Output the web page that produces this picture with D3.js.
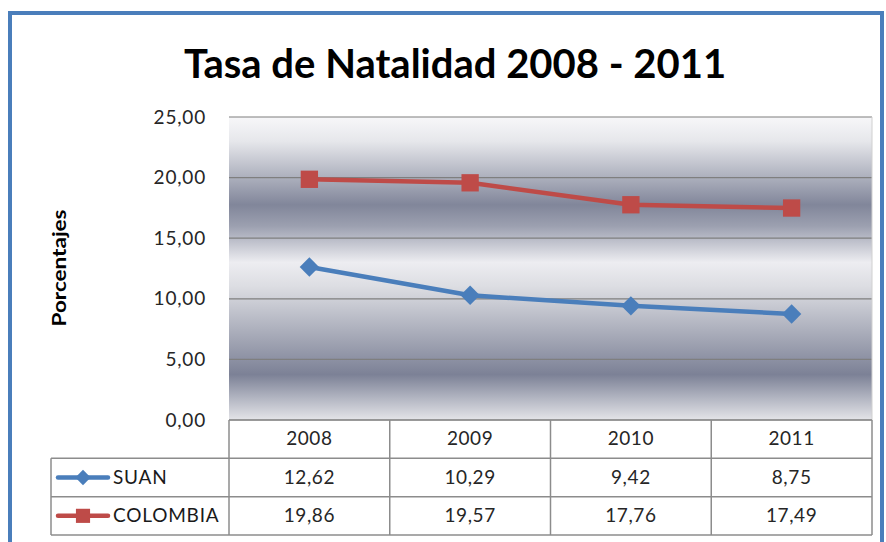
<!DOCTYPE html>
<html><head><meta charset="utf-8">
<script src="https://cdn.jsdelivr.net/npm/d3@7"></script>
<style>body{margin:0;background:#fff}svg{display:block}</style>
</head><body>
<svg id="c" width="886" height="542"></svg>
<script>
const years = ["2008","2009","2010","2011"];
const suan = [12.62,10.29,9.42,8.75];
const colombia = [19.86,19.57,17.76,17.49];
const yTicks = [0,5,10,15,20,25];
const seriesNames = ["SUAN","COLOMBIA"];
const title = "Tasa de Natalidad 2008 - 2011";
const yLabel = "Porcentajes";

const svg = d3.select("#c");
const font = "Lato, 'Open Sans', sans-serif";
const fmt = v => d3.format(".2f")(v).replace(".", ",");

const L = 229, R = 872, T = 117, B = 420;
const x = d3.scaleBand().domain(years).range([L, R]);
const y = d3.scaleLinear().domain([0, 25]).range([B, T]);
const cx = d => x(d) + x.bandwidth()/2;
const rows = d3.scaleBand().domain(["head", ...seriesNames]).range([B, 535]);

// outer border
svg.append("rect").attr("x",10).attr("y",13).attr("width",872).attr("height",600)
  .attr("fill","#fff").attr("stroke","#4a7ebb").attr("stroke-width",4);

// gradient
const defs = svg.append("defs");
const g = defs.append("linearGradient").attr("id","bg").attr("x1",0).attr("y1",0).attr("x2",0).attr("y2",1);
[[0,"#f7f7f9"],[0.08,"#e6e7eb"],[0.29,"#81869a"],[0.36,"#9ca0b0"],[0.48,"#ededf1"],[0.56,"#dcdde2"],[0.85,"#7c8196"],[0.93,"#b4b7c3"],[1,"#e4e4e8"]]
  .forEach(s => g.append("stop").attr("offset", s[0]).attr("stop-color", s[1]));
svg.append("rect").attr("x",L).attr("y",T).attr("width",R-L).attr("height",B-T).attr("fill","url(#bg)");

// gridlines
svg.append("g").selectAll("line").data(yTicks).join("line")
  .attr("x1",L).attr("x2",R).attr("y1",d=>y(d)).attr("y2",d=>y(d))
  .attr("stroke","#7f7f7f").attr("stroke-width",1.2);
svg.append("line").attr("x1",R).attr("x2",R).attr("y1",T).attr("y2",B).attr("stroke","#d0d0d0");

// title
svg.append("text").attr("x",455).attr("y",78).attr("text-anchor","middle")
  .attr("font-family",font).attr("font-weight","bold").attr("font-size",40)
  .attr("fill","#000").text(title);

// y axis
const ya = svg.append("g").attr("transform",`translate(${L},0)`)
  .call(d3.axisLeft(y).tickValues(yTicks).tickFormat(fmt).tickSize(0).tickPadding(23));
ya.select(".domain").remove();
ya.selectAll("text").attr("font-family",font).attr("font-size",19).attr("letter-spacing",0.8).attr("fill","#262626");

svg.append("text").attr("transform","translate(66,268) rotate(-90)").attr("text-anchor","middle")
  .attr("font-family",font).attr("font-weight","bold").attr("font-size",18)
  .attr("textLength",117).attr("lengthAdjust","spacingAndGlyphs").attr("fill","#000").text(yLabel);

// lines
const series = [
  {name: seriesNames[0], values: suan, color:"#4a7ebb", shape: d3.symbolDiamond2},
  {name: seriesNames[1], values: colombia, color:"#be4b48", shape: d3.symbolSquare}
];
const line = d3.line().x((d,i)=>cx(years[i])).y(d=>y(d));
series.forEach(s => {
  svg.append("path").attr("d", line(s.values)).attr("fill","none")
    .attr("stroke", s.color).attr("stroke-width",4.5).attr("stroke-linejoin","round");
  svg.append("g").selectAll("path").data(s.values).join("path")
    .attr("transform",(d,i)=>`translate(${cx(years[i])},${y(d)})`)
    .attr("d", d3.symbol().type(s.shape).size(s.shape===d3.symbolSquare?300:240)())
    .attr("fill", s.color);
});

// data table
const tc = "#8c8c8c";
const tbl = svg.append("g").attr("stroke",tc).attr("stroke-width",1.5);
[...years.map(d=>x(d)), R].forEach(v => tbl.append("line").attr("x1",v).attr("x2",v).attr("y1",B).attr("y2",535));
tbl.append("line").attr("x1",51).attr("x2",51).attr("y1",rows("SUAN")).attr("y2",535);
tbl.append("line").attr("x1",L).attr("x2",R).attr("y1",B).attr("y2",B);
seriesNames.forEach(n => tbl.append("line").attr("x1",51).attr("x2",R).attr("y1",rows(n)).attr("y2",rows(n)));
tbl.append("line").attr("x1",51).attr("x2",R).attr("y1",535).attr("y2",535);

const rh = rows.bandwidth();
svg.append("g").selectAll("text").data(years).join("text")
  .attr("x",d=>cx(d)).attr("y",rows("head")+rh/2+6).attr("text-anchor","middle")
  .attr("font-family",font).attr("font-size",19).attr("letter-spacing",0.6).attr("fill","#262626").text(d=>d);

series.forEach(s => {
  const ry = rows(s.name)+rh/2;
  svg.append("g").selectAll("text").data(s.values).join("text")
    .attr("x",(d,i)=>cx(years[i])).attr("y",ry+6).attr("text-anchor","middle")
    .attr("font-family",font).attr("font-size",19).attr("letter-spacing",0.6).attr("fill","#262626").text(fmt);
  svg.append("line").attr("x1",58).attr("x2",108).attr("y1",ry).attr("y2",ry)
    .attr("stroke",s.color).attr("stroke-width",4.5).attr("stroke-linecap","round");
  svg.append("path").attr("transform",`translate(83,${ry})`)
    .attr("d", d3.symbol().type(s.shape).size(s.shape===d3.symbolSquare?200:150)()).attr("fill",s.color);
  svg.append("text").attr("x",113).attr("y",ry+6).attr("font-family",font).attr("font-size",19)
    .attr("letter-spacing",0.8).attr("fill","#1a1a1a").text(s.name);
});
</script>
</body></html>
